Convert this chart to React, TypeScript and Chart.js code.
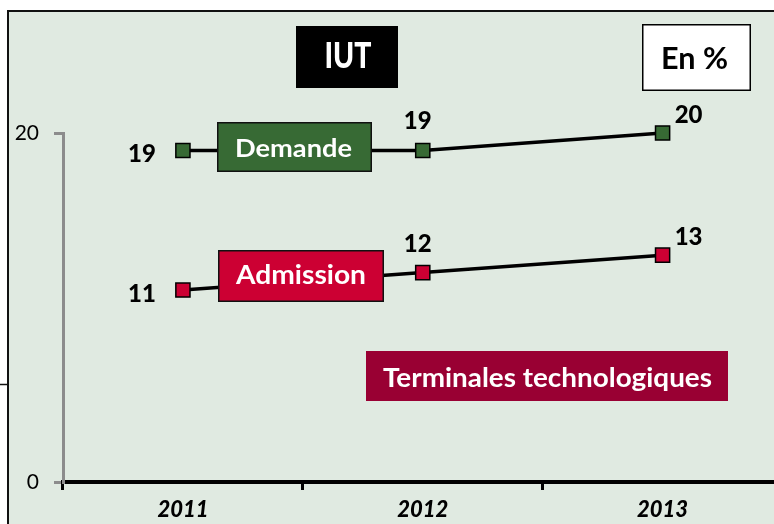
import React, { useEffect, useRef } from 'react';
import { Chart, registerables } from 'chart.js';

Chart.register(...registerables);

const years = ['2011', '2012', '2013'];
const demande = [19, 19, 20];
const admission = [11, 12, 13];
const yTicks = [0, 20];
const titleText = 'IUT';
const unitText = 'En %';
const demandeLabel = 'Demande';
const admissionLabel = 'Admission';
const groupLabel = 'Terminales technologiques';

const BG = '#e0eae1';
const GREEN = '#376a34';
const RED = '#cc0033';
const DARKRED = '#990033';
const GREY = '#8c8c8c';
const FONT = 'Lato, "DejaVu Sans", sans-serif';

function fitText(
  ctx: CanvasRenderingContext2D,
  text: string,
  cx: number,
  baseline: number,
  font: string,
  color: string,
  width: number
) {
  ctx.save();
  ctx.font = font;
  ctx.fillStyle = color;
  ctx.textAlign = 'center';
  ctx.textBaseline = 'alphabetic';
  const m = ctx.measureText(text).width;
  const sx = width / m;
  ctx.translate(cx, baseline);
  ctx.scale(sx, 1);
  ctx.fillText(text, 0, 0);
  ctx.restore();
}

function box(
  ctx: CanvasRenderingContext2D,
  x0: number,
  y0: number,
  x1: number,
  y1: number,
  fill: string,
  border: string | null
) {
  ctx.save();
  ctx.fillStyle = fill;
  ctx.fillRect(x0, y0, x1 - x0, y1 - y0);
  if (border) {
    ctx.strokeStyle = border;
    ctx.lineWidth = 1.5;
    ctx.strokeRect(x0 + 0.75, y0 + 0.75, x1 - x0 - 1.5, y1 - y0 - 1.5);
  }
  ctx.restore();
}

const backgroundPlugin = {
  id: 'bgFrame',
  beforeDraw(chart: any) {
    const { ctx, width, height } = chart;
    ctx.save();
    ctx.fillStyle = '#ffffff';
    ctx.fillRect(0, 0, width, height);
    ctx.fillStyle = BG;
    ctx.fillRect(7, 10, width, height);
    ctx.strokeStyle = '#111';
    ctx.lineWidth = 2;
    ctx.beginPath();
    ctx.moveTo(8, height);
    ctx.lineTo(8, 11);
    ctx.lineTo(width, 11);
    ctx.stroke();
    ctx.lineWidth = 1.5;
    ctx.beginPath();
    ctx.moveTo(0, 384.5);
    ctx.lineTo(7, 384.5);
    ctx.stroke();
    ctx.restore();
  },
};

const labelOffsets = [
  { dx: -41, dy: 12 },
  { dx: -5, dy: -21 },
  { dx: 26, dy: -10 },
];

const annotationPlugin = {
  id: 'annotations',
  afterDatasetsDraw(chart: any) {
    const ctx: CanvasRenderingContext2D = chart.ctx;
    box(ctx, 296, 26, 398, 88, '#000', null);
    fitText(ctx, titleText, 348, 68, `900 36px ${FONT}`, '#fff', 47);
    box(ctx, 642, 24, 751, 91, '#fff', '#000');
    fitText(ctx, unitText, 694.5, 69, `bold 30px ${FONT}`, '#000', 67);
    box(ctx, 217, 122, 372, 172, GREEN, '#111');
    fitText(ctx, demandeLabel, 293.5, 157, `bold 25px ${FONT}`, '#fff', 117);
    box(ctx, 218, 250, 384, 302, RED, '#111');
    fitText(ctx, admissionLabel, 301, 284, `bold 26px ${FONT}`, '#fff', 130);
    box(ctx, 366, 351, 728, 401, DARKRED, null);
    fitText(ctx, groupLabel, 547.5, 387, `bold 26px ${FONT}`, '#fff', 329);

    chart.data.datasets.forEach((ds: any, di: number) => {
      const meta = chart.getDatasetMeta(di);
      meta.data.forEach((pt: any, i: number) => {
        const off = labelOffsets[i];
        ctx.save();
        ctx.font = `900 24px ${FONT}`;
        ctx.fillStyle = '#000';
        ctx.textAlign = 'center';
        ctx.textBaseline = 'alphabetic';
        ctx.fillText(String(ds.data[i]), pt.x + off.dx, pt.y + off.dy);
        ctx.restore();
      });
    });
  },
};

export default function App() {
  const ref = useRef<HTMLCanvasElement | null>(null);

  useEffect(() => {
    document.body.style.margin = '0';
    const canvas = ref.current;
    if (!canvas) return;
    const mkSeries = (label: string, data: number[], fill: string) => ({
      label,
      data,
      borderColor: '#000',
      borderWidth: 3.5,
      pointStyle: 'rect',
      pointRadius: 10,
      pointBackgroundColor: fill,
      pointBorderColor: '#000',
      pointBorderWidth: 1.5,
      tension: 0,
      clip: false as any,
    });
    const chart = new Chart(canvas, {
      type: 'line',
      data: {
        labels: years,
        datasets: [
          mkSeries(demandeLabel, demande, GREEN),
          mkSeries(admissionLabel, admission, RED),
        ],
      },
      options: {
        responsive: false,
        animation: false,
        devicePixelRatio: 1,
        layout: { padding: { top: 133, left: 0, right: 0, bottom: 0 } },
        plugins: {
          legend: { display: false },
          tooltip: { enabled: false },
          title: { display: false },
        },
        scales: {
          x: {
            type: 'category',
            offset: true,
            grid: {
              offset: true,
              drawOnChartArea: false,
              tickLength: 8,
              color: '#000',
              lineWidth: 3,
            },
            border: { color: '#000', width: 4 },
            ticks: {
              font: { family: FONT, size: 22, weight: '900', style: 'italic' },
              color: '#000',
              padding: 7,
            },
            afterFit: (s: any) => {
              s.height = 42;
            },
          },
          y: {
            min: 0,
            max: 20,
            afterBuildTicks: (s: any) => {
              s.ticks = yTicks.map((v) => ({ value: v }));
            },
            grid: {
              drawOnChartArea: false,
              tickLength: 9,
              color: GREY,
              lineWidth: 3,
            },
            border: { color: GREY, width: 3 },
            ticks: {
              font: { family: FONT, size: 21 },
              color: '#000',
              padding: 15,
            },
            afterFit: (s: any) => {
              s.width = 63;
            },
          },
        },
      } as any,
      plugins: [backgroundPlugin, annotationPlugin],
    });
    return () => chart.destroy();
  }, []);

  return (
    <div style={{ width: 774, height: 524, overflow: 'hidden' }}>
      <canvas ref={ref} width={794} height={524} style={{ display: 'block', width: 794, height: 524 }} />
    </div>
  );
}
